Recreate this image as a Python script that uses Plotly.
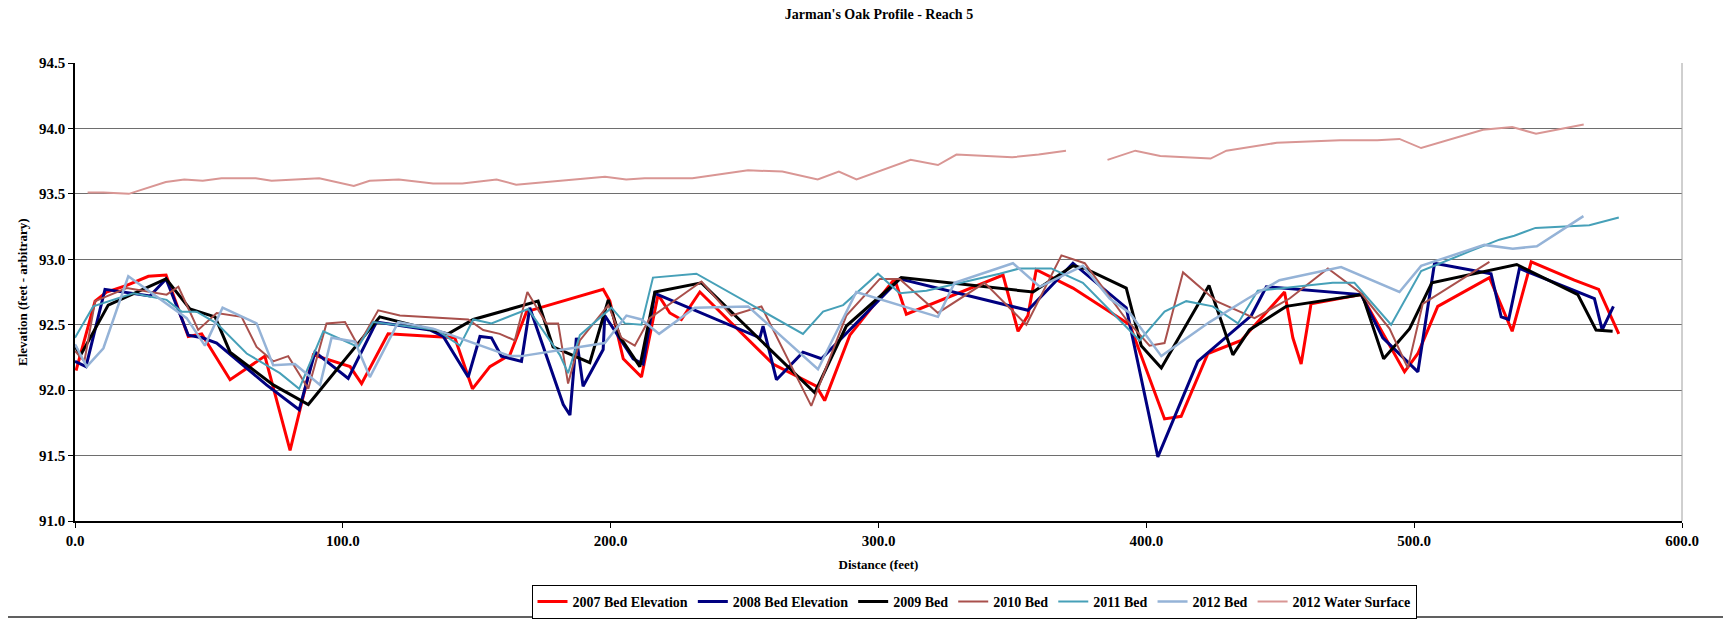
import plotly.graph_objects as go

# distances (feet) and elevations
x2007 = [0.4, 7.5, 11.8, 19.3, 27.4, 34.0, 42.3, 47.3, 57.9, 70.9, 80.3, 89.0, 102.7, 107.0, 116.9, 141.8, 148.4, 154.9, 162.4, 168.6,
         197.2, 199.7, 204.7, 211.5, 217.7, 222.1, 226.4, 233.3, 260.6, 276.8, 279.9, 289.3, 306.0, 310.4, 346.5, 352.1, 355.8, 358.9,
         372.6, 393.8, 406.8, 413.0, 423.0, 435.4, 451.6, 454.7, 457.8, 461.5, 480.2, 496.4, 501.4, 508.8, 528.1, 536.6, 543.7,
         559.8, 568.9, 576.4]
y2007 = [92.15, 92.68, 92.75, 92.80, 92.87, 92.88, 92.41, 92.43, 92.08, 92.26, 91.54, 92.27, 92.18, 92.05, 92.43, 92.40, 92.01, 92.18,
         92.27, 92.60, 92.77, 92.68, 92.24, 92.10, 92.73, 92.59, 92.54, 92.75, 92.20, 92.03, 91.92, 92.42, 92.85, 92.58, 92.88, 92.45,
         92.57, 92.92, 92.78, 92.50, 91.78, 91.80, 92.28, 92.38, 92.75, 92.40, 92.20, 92.66, 92.73, 92.14, 92.28, 92.64, 92.86, 92.45,
         92.98, 92.84, 92.77, 92.43]

x2008 = [0, 4.1, 11.2, 28.0, 34.0, 42.3, 47.5, 52.9, 71.5, 83.7, 89.6, 102.0, 111.3, 112.6, 132.5, 137.5, 146.8, 151.2, 155.5, 159.2,
         166.7, 169.8, 182.3, 184.8, 187.2, 189.7, 197.2, 197.8, 208.4, 212.1, 216.5, 255.7, 256.9, 261.9, 271.8, 278.7, 307.9, 355.8,
         372.6, 392.5, 404.3, 419.2, 439.2, 444.8, 480.2, 488.3, 501.4, 507.6, 528.7, 532.5, 535.3, 539.3, 567.3, 570.2, 574.4]
y2008 = [92.22, 92.18, 92.77, 92.72, 92.85, 92.42, 92.40, 92.36, 92.04, 91.85, 92.29, 92.09, 92.47, 92.52, 92.46, 92.41, 92.10, 92.41,
         92.40, 92.26, 92.22, 92.63, 91.89, 91.81, 92.40, 92.03, 92.31, 92.57, 92.24, 92.20, 92.74, 92.40, 92.49, 92.08, 92.29, 92.24,
         92.85, 92.61, 92.97, 92.63, 91.49, 92.22, 92.57, 92.79, 92.73, 92.40, 92.14, 92.97, 92.89, 92.56, 92.54, 92.93, 92.70, 92.46,
         92.64]

x2009 = [0, 1.9, 12.4, 34.0, 42.9, 52.3, 57.9, 74.0, 87.1, 113.8, 139.3, 148.7, 172.9, 178.5, 192.2, 199.1, 203.4, 210.9, 216.5, 233.9,
         276.2, 288.0, 308.5, 357.7, 372.6, 377.0, 392.5, 398.1, 405.6, 423.4, 432.3, 438.5, 452.2, 480.6, 488.6, 498.3, 506.6, 538.3,
         561.1, 567.9, 574.1]
y2009 = [92.34, 92.26, 92.65, 92.85, 92.62, 92.56, 92.29, 92.04, 91.89, 92.56, 92.43, 92.54, 92.68, 92.33, 92.21, 92.69, 92.41, 92.18,
         92.75, 92.82, 91.98, 92.49, 92.86, 92.75, 92.95, 92.93, 92.78, 92.34, 92.17, 92.80, 92.27, 92.46, 92.64, 92.73, 92.24, 92.47,
         92.82, 92.96, 92.73, 92.46, 92.45]

x2010 = [0, 3.5, 7.5, 19.3, 34.2, 38.6, 46.0, 52.9, 62.2, 67.8, 74.0, 79.6, 87.1, 93.9, 100.8, 105.7, 113.2, 121.3, 146.8, 152.4,
         158.6, 164.2, 168.9, 176.0, 180.4, 184.1, 188.5, 199.1, 204.0, 209.0, 214.6, 233.9, 245.1, 256.3, 274.9, 288.0, 300.5, 307.9,
         322.2, 339.6, 355.2, 368.3, 377.0, 392.5, 401.2, 406.8, 413.7, 426.1, 440.4, 453.5, 467.8, 480.2, 490.8, 497.6, 503.2, 528.1]
y2010 = [92.30, 92.22, 92.68, 92.78, 92.73, 92.79, 92.46, 92.59, 92.56, 92.33, 92.22, 92.26, 92.01, 92.51, 92.52, 92.34, 92.61, 92.57,
         92.54, 92.46, 92.43, 92.38, 92.75, 92.51, 92.51, 92.05, 92.38, 92.65, 92.40, 92.34, 92.55, 92.83, 92.57, 92.64, 91.88, 92.57,
         92.85, 92.85, 92.59, 92.82, 92.50, 93.03, 92.97, 92.54, 92.34, 92.36, 92.90, 92.68, 92.55, 92.70, 92.93, 92.74, 92.47, 92.17,
         92.66, 92.98]

x2011 = [0, 6.8, 21.8, 34.2, 39.8, 45.4, 52.9, 64.1, 76.5, 83.7, 92.7, 105.7, 111.3, 135.0, 143.7, 148.7, 155.5, 169.2, 181.0, 184.1,
         188.5, 200.3, 205.3, 211.5, 215.8, 232.0, 271.8, 279.3, 286.8, 299.8, 307.9, 317.9, 345.2, 352.7, 364.5, 376.3, 397.5, 406.8,
         414.9, 424.8, 434.2, 441.6, 469.6, 477.7, 491.4, 502.6, 520.7, 531.8, 537.4, 545.3, 565.4, 576.4]
y2011 = [92.40, 92.64, 92.74, 92.69, 92.60, 92.60, 92.51, 92.28, 92.13, 92.01, 92.45, 92.33, 92.52, 92.46, 92.34, 92.54, 92.51, 92.62,
         92.27, 92.13, 92.42, 92.63, 92.51, 92.50, 92.86, 92.89, 92.43, 92.60, 92.65, 92.89, 92.74, 92.76, 92.89, 92.93, 92.93, 92.82,
         92.38, 92.60, 92.68, 92.64, 92.51, 92.76, 92.82, 92.82, 92.50, 92.91, 93.06, 93.15, 93.18, 93.24, 93.26, 93.32]

x2012 = [0, 4.4, 10.6, 19.9, 41.7, 48.5, 55.1, 62.2, 67.8, 74.0, 82.1, 91.5, 95.8, 104.5, 110.1, 120.7, 133.7, 162.4, 166.7, 197.8,
         205.9, 211.5, 218.1, 231.4, 251.3, 277.4, 291.7, 322.2, 328.4, 350.2, 360.2, 376.3, 386.3, 393.8, 405.6, 423.6, 437.9, 449.7,
         472.7, 494.5, 502.6, 526.2, 536.8, 545.8, 563.2]
y2012 = [92.35, 92.18, 92.32, 92.87, 92.55, 92.34, 92.63, 92.56, 92.51, 92.19, 92.20, 92.04, 92.40, 92.37, 92.10, 92.52, 92.47, 92.26,
         92.26, 92.36, 92.57, 92.54, 92.43, 92.63, 92.64, 92.16, 92.75, 92.56, 92.82, 92.97, 92.79, 92.95, 92.70, 92.59, 92.26, 92.52,
         92.70, 92.84, 92.94, 92.75, 92.95, 93.11, 93.08, 93.10, 93.33]

# water surface has a missing reading around 378 ft
xws = [4.7, 10.6, 20.1, 33.9, 40.8, 47.7, 54.7, 67.5, 73.4, 91.2, 104.1, 110.0, 120.9, 133.7, 144.6, 157.4, 164.7, 197.9, 205.8, 212.7,
       230.5, 251.3, 264.1, 277.3, 285.2, 291.8, 312.0, 322.2, 329.1, 349.9, 359.8, 370.0, 378.0, 385.5, 395.9, 405.2, 424.0, 429.9,
       448.7, 472.4, 486.2, 494.5, 502.6, 525.7, 536.6, 545.5, 563.3]
yws = [93.51, 93.51, 93.50, 93.59, 93.61, 93.60, 93.62, 93.62, 93.60, 93.62, 93.56, 93.60, 93.61, 93.58, 93.58, 93.61, 93.57, 93.63,
       93.61, 93.62, 93.62, 93.68, 93.67, 93.61, 93.67, 93.61, 93.76, 93.72, 93.80, 93.78, 93.80, 93.83, None, 93.76, 93.83, 93.79,
       93.77, 93.83, 93.89, 93.91, 93.91, 93.92, 93.85, 93.99, 94.01, 93.96, 94.03]

series = [
    ("2007 Bed Elevation", x2007, y2007, "#FF0000", 3),
    ("2008 Bed Elevation", x2008, y2008, "#000080", 3),
    ("2009 Bed", x2009, y2009, "#000000", 3),
    ("2010 Bed", x2010, y2010, "#A9504C", 2),
    ("2011 Bed", x2011, y2011, "#46A0B8", 2),
    ("2012 Bed", x2012, y2012, "#95B3D7", 2.5),
    ("2012 Water Surface", xws, yws, "#D99694", 2),
]

SERIF = "Liberation Serif, Times New Roman, serif"

# page body has an 8px margin, so the figure is 8px smaller and everything shifted up/left
W, H = 1723, 611

fig = go.Figure()
for name, xs, ys, col, w in series:
    fig.add_trace(go.Scatter(x=xs, y=ys, name=name, mode="lines",
                             line=dict(color=col, width=w), connectgaps=False))

fig.update_layout(
    width=W, height=H,
    margin=dict(l=67, r=49, t=55, b=98),
    paper_bgcolor="white", plot_bgcolor="white",
    font=dict(family=SERIF, color="black"),
    showlegend=True,
    title=dict(text="Jarman's Oak Profile - Reach 5", x=871 / W, xanchor="center",
               y=1 - 1 / H, yanchor="top", yref="container",
               font=dict(family=SERIF, size=14, weight="bold")),
    legend=dict(orientation="h", x=966 / W, xanchor="center", xref="container",
                y=1 - 577 / H, yanchor="top", yref="container",
                bordercolor="black", borderwidth=1, bgcolor="white",
                font=dict(family=SERIF, size=14, weight="bold"),
                itemwidth=30, tracegroupgap=0),
    hovermode=False,
)

fig.update_xaxes(range=[0, 600], dtick=100, tickformat=".1f",
                 showline=True, linecolor="black", linewidth=1.5,
                 ticks="outside", ticklen=5, tickcolor="black",
                 showgrid=False, zeroline=False,
                 tickfont=dict(family=SERIF, size=15, weight="bold"),
                 title=dict(text="Distance (feet)", standoff=12,
                            font=dict(family=SERIF, size=13, weight="bold")))
fig.update_yaxes(range=[91.0, 94.5], dtick=0.5, tickformat=".1f",
                 showline=True, linecolor="black", linewidth=1.5,
                 ticks="outside", ticklen=5, tickcolor="black",
                 showgrid=True, gridcolor="#6E6E6E", gridwidth=1, zeroline=False,
                 tickfont=dict(family=SERIF, size=15, weight="bold"))

fig.add_annotation(text="Elevation (feet - arbitrary)", xref="paper", yref="paper",
                   x=-0.033, xanchor="center", y=0.5, yanchor="middle",
                   textangle=-90, showarrow=False,
                   font=dict(family=SERIF, size=13, weight="bold"))

# right border of plot area and the bottom edge of the chart frame
fig.add_shape(type="line", xref="paper", yref="paper", x0=1, x1=1, y0=0, y1=1,
              line=dict(color="#A0A0A0", width=1))
fig.add_shape(type="line", xref="paper", yref="paper", x0=-0.05, x1=1.04, y0=-0.2096, y1=-0.2096,
              line=dict(color="#606060", width=2))

fig.write_html("out.html")
